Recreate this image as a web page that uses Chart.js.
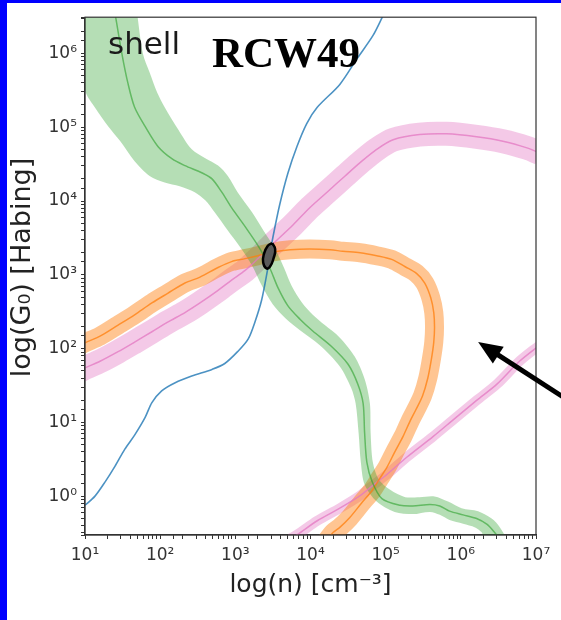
<!DOCTYPE html>
<html>
<head>
<meta charset="utf-8">
<script src="https://cdn.jsdelivr.net/npm/chart.js@4.4.0/dist/chart.umd.min.js"></script>
<style>
  body { margin: 0; background: #fff; }
  #wrap { width: 554px; height: 617px; border-left: 7px solid #0000ff; border-top: 3px solid #0000ff; background: #fff; }
  canvas { display: block; }
</style>
</head>
<body>
<div id="wrap"><canvas id="chart" width="554" height="617"></canvas></div>
<script>
// values are log10(n) and log10(G0)

// blue line
var blueLogN = [1.00, 1.13, 1.27, 1.40, 1.53, 1.66, 1.80, 1.89, 2.02, 2.20, 2.42, 2.69, 2.86, 3.03, 3.17, 3.26, 3.35, 3.42, 3.46, 3.50, 3.59, 3.70, 3.82, 3.95, 4.09, 4.39, 4.62, 4.83, 4.96];
var blueLogG = [-0.12, 0.00, 0.20, 0.41, 0.64, 0.83, 1.07, 1.27, 1.43, 1.54, 1.63, 1.72, 1.80, 1.96, 2.13, 2.36, 2.66, 3.02, 3.28, 3.51, 3.95, 4.38, 4.74, 5.05, 5.27, 5.58, 5.93, 6.24, 6.50];

// green line + band edges
var greenLogN = [1.39, 1.49, 1.57, 1.66, 1.80, 1.97, 2.16, 2.33, 2.56, 2.69, 2.82, 2.95, 3.14, 3.33, 3.46, 3.57, 3.70, 3.86, 4.03, 4.28, 4.50, 4.63, 4.70, 4.72, 4.75, 4.82, 4.95, 5.19, 5.36, 5.59, 5.72, 5.85, 6.03, 6.21, 6.35, 6.45, 6.52];
var greenLogG = [6.60, 6.00, 5.60, 5.27, 5.01, 4.74, 4.57, 4.48, 4.38, 4.30, 4.12, 3.91, 3.64, 3.35, 3.09, 2.82, 2.58, 2.40, 2.24, 2.03, 1.79, 1.52, 1.26, 0.86, 0.46, 0.20, -0.03, -0.12, -0.13, -0.11, -0.13, -0.20, -0.25, -0.30, -0.38, -0.49, -0.58];
var greenHiLogN = [1.68, 1.70, 1.77, 1.86, 1.96, 2.06, 2.24, 2.42, 2.60, 2.77, 2.90, 3.03, 3.22, 3.38, 3.53, 3.65, 3.75, 3.89, 4.03, 4.19, 4.39, 4.59, 4.72, 4.79, 4.80, 4.83, 4.91, 5.06, 5.26, 5.45, 5.65, 5.83, 6.01, 6.23, 6.41, 6.52, 6.59];
var greenHiLogG = [6.66, 6.49, 6.00, 5.74, 5.47, 5.27, 4.97, 4.70, 4.58, 4.48, 4.34, 4.12, 3.85, 3.59, 3.35, 3.09, 2.85, 2.62, 2.46, 2.32, 2.15, 1.89, 1.59, 1.26, 0.86, 0.46, 0.23, 0.09, -0.01, -0.01, 0.00, -0.07, -0.16, -0.20, -0.30, -0.42, -0.58];
var greenLoLogN = [0.80, 0.91, 1.01, 1.13, 1.31, 1.47, 1.66, 1.86, 2.06, 2.26, 2.46, 2.60, 2.73, 2.90, 3.06, 3.22, 3.35, 3.50, 3.67, 3.86, 4.12, 4.39, 4.54, 4.60, 4.64, 4.67, 4.72, 4.88, 5.12, 5.36, 5.59, 5.72, 5.85, 6.03, 6.19, 6.28, 6.31];
var greenLoLogG = [6.66, 5.93, 5.47, 5.27, 5.01, 4.81, 4.54, 4.34, 4.25, 4.20, 4.12, 4.01, 3.84, 3.60, 3.38, 3.13, 2.86, 2.60, 2.41, 2.25, 2.05, 1.76, 1.47, 1.26, 0.86, 0.46, 0.16, -0.07, -0.21, -0.24, -0.21, -0.25, -0.32, -0.37, -0.42, -0.49, -0.58];

// orange line
var orangeLogN = [0.93, 1.00, 1.20, 1.44, 1.66, 1.89, 2.10, 2.33, 2.53, 2.77, 2.95, 3.13, 3.30, 3.50, 3.73, 3.99, 4.26, 4.43, 4.66, 4.88, 5.08, 5.26, 5.41, 5.52, 5.60, 5.64, 5.65, 5.64, 5.61, 5.56, 5.49, 5.40, 5.32, 5.23, 5.12, 5.02, 4.92, 4.82, 4.68, 4.52, 4.39, 4.30, 4.20];
var orangeLogG = [2.04, 2.08, 2.17, 2.32, 2.46, 2.62, 2.75, 2.89, 2.97, 3.10, 3.18, 3.22, 3.26, 3.31, 3.34, 3.35, 3.34, 3.32, 3.30, 3.26, 3.21, 3.11, 3.02, 2.89, 2.69, 2.49, 2.29, 2.09, 1.87, 1.60, 1.36, 1.17, 1.01, 0.81, 0.60, 0.40, 0.24, 0.08, -0.09, -0.29, -0.42, -0.49, -0.62];

// pink lines (upper and lower branch)
var pinkLogN = [0.93, 1.00, 1.20, 1.44, 1.66, 1.89, 2.10, 2.33, 2.53, 2.77, 2.95, 3.13, 3.30, 3.50, 3.77, 3.99, 4.22, 4.46, 4.66, 4.88, 5.10, 5.45, 5.81, 6.21, 6.56, 6.88, 7.05];
var pinkLogG = [1.70, 1.74, 1.83, 1.96, 2.09, 2.23, 2.36, 2.49, 2.62, 2.79, 2.93, 3.06, 3.22, 3.42, 3.68, 3.91, 4.12, 4.34, 4.52, 4.70, 4.83, 4.90, 4.91, 4.87, 4.81, 4.72, 4.65];
var pink2LogN = [3.73, 3.82, 4.09, 4.39, 4.66, 4.83, 5.02, 5.28, 5.63, 5.89, 6.21, 6.48, 6.78, 7.05];
var pink2LogG = [-0.57, -0.52, -0.33, -0.16, 0.01, 0.15, 0.30, 0.53, 0.81, 1.03, 1.30, 1.52, 1.83, 2.05];

// best-fit contour
var fitLogN = [3.49, 3.53, 3.51, 3.46, 3.41, 3.37, 3.38, 3.43, 3.49];
var fitLogG = [3.43, 3.35, 3.23, 3.11, 3.09, 3.17, 3.28, 3.39, 3.43];

// arrow (tail, head)
var arrowLogN = [7.72, 6.23];
var arrowLogG = [1.11, 2.09];

var xTickExps = [1, 2, 3, 4, 5, 6, 7];
var xTickLabels = ["10¹", "10²", "10³", "10⁴", "10⁵", "10⁶", "10⁷"];
var yTickExps = [0, 1, 2, 3, 4, 5, 6];
var yTickLabels = ["10⁰", "10¹", "10²", "10³", "10⁴", "10⁵", "10⁶"];

function pts(ln, lg) {
  return ln.map(function (v, i) {
    return { x: Math.pow(10, v), y: Math.pow(10, lg[i]) };
  });
}

function tickLabel(exps, labels) {
  return function (value) {
    var e = Math.log10(value);
    var r = Math.round(e);
    var i = exps.indexOf(r);
    if (i >= 0 && Math.abs(e - r) < 1e-6) return labels[i];
    return "";
  };
}

var greenBand = pts(greenHiLogN, greenHiLogG).concat(pts(greenLoLogN, greenLoLogG).reverse());

var extras = {
  id: "extras",
  afterDraw: function (chart) {
    var ctx = chart.ctx;
    var a = chart.chartArea;
    var xs = chart.scales.x;
    var ys = chart.scales.y;
    ctx.save();
    // frame
    ctx.strokeStyle = "#333";
    ctx.lineWidth = 1.2;
    ctx.strokeRect(a.left, a.top, a.right - a.left, a.bottom - a.top);

    // labels
    ctx.fillStyle = "#1a1a1a";
    ctx.font = "31px 'DejaVu Sans'";
    ctx.textBaseline = "alphabetic";
    ctx.fillText("shell", a.left + 23, a.top + 37);
    ctx.fillStyle = "#000";
    ctx.font = "bold 43px 'Liberation Serif'";
    ctx.fillText("RCW49", a.left + 127, a.top + 50);

    // arrow
    var x0 = xs.getPixelForValue(Math.pow(10, arrowLogN[0]));
    var y0 = ys.getPixelForValue(Math.pow(10, arrowLogG[0]));
    var x1 = xs.getPixelForValue(Math.pow(10, arrowLogN[1]));
    var y1 = ys.getPixelForValue(Math.pow(10, arrowLogG[1]));
    var ang = Math.atan2(y1 - y0, x1 - x0);
    var hl = 24, hw = 10;
    var bx = x1 - hl * Math.cos(ang), by = y1 - hl * Math.sin(ang);
    ctx.strokeStyle = "#000";
    ctx.lineWidth = 5;
    ctx.beginPath();
    ctx.moveTo(x0, y0);
    ctx.lineTo(bx + 4 * Math.cos(ang), by + 4 * Math.sin(ang));
    ctx.stroke();
    ctx.fillStyle = "#000";
    ctx.beginPath();
    ctx.moveTo(x1, y1);
    ctx.lineTo(bx + hw * Math.sin(ang), by - hw * Math.cos(ang));
    ctx.lineTo(bx - hw * Math.sin(ang), by + hw * Math.cos(ang));
    ctx.closePath();
    ctx.fill();
    ctx.restore();
  },
};

var chart = new Chart(document.getElementById("chart").getContext("2d"), {
  type: "line",
  data: {
    datasets: [
      {
        data: pts(fitLogN, fitLogG),
        order: 0,
        fill: "shape",
        backgroundColor: "#5a5a5a",
        borderColor: "#000",
        borderWidth: 2.5,
        tension: 0.5,
      },
      {
        data: pts(blueLogN, blueLogG),
        order: 1,
        borderColor: "rgba(31,119,180,0.8)",
        borderWidth: 1.6,
        tension: 0.3,
      },
      {
        data: pts(greenLogN, greenLogG),
        order: 2,
        borderColor: "rgba(44,160,44,0.6)",
        borderWidth: 1.5,
        tension: 0.3,
      },
      {
        data: pts(orangeLogN, orangeLogG),
        order: 2,
        borderColor: "rgba(255,127,14,0.75)",
        borderWidth: 1.5,
        tension: 0.3,
      },
      {
        data: pts(pinkLogN, pinkLogG),
        order: 2,
        borderColor: "rgba(227,119,194,0.75)",
        borderWidth: 1.5,
        tension: 0.3,
      },
      {
        data: pts(pink2LogN, pink2LogG),
        order: 2,
        borderColor: "rgba(227,119,194,0.75)",
        borderWidth: 1.5,
        tension: 0.3,
      },
      {
        // green uncertainty band
        data: greenBand,
        order: 3,
        fill: "shape",
        backgroundColor: "rgba(44,160,44,0.35)",
        borderWidth: 0,
        borderColor: "rgba(0,0,0,0)",
        tension: 0.3,
      },
      {
        data: pts(orangeLogN, orangeLogG),
        order: 4,
        borderColor: "rgba(255,127,14,0.45)",
        borderWidth: 19,
        borderJoinStyle: "round",
        tension: 0.3,
      },
      {
        data: pts(pinkLogN, pinkLogG),
        order: 4,
        borderColor: "rgba(227,119,194,0.4)",
        borderWidth: 24,
        borderJoinStyle: "round",
        tension: 0.3,
      },
      {
        data: pts(pink2LogN, pink2LogG),
        order: 4,
        borderColor: "rgba(227,119,194,0.4)",
        borderWidth: 10,
        borderJoinStyle: "round",
        tension: 0.3,
      },
    ],
  },
  options: {
    responsive: false,
    animation: false,
    events: [],
    layout: {
      padding: { left: 0, top: 5, right: 25, bottom: 0 },
    },
    datasets: {
      line: { clip: 0, pointRadius: 0 },
    },
    plugins: {
      legend: { display: false },
      tooltip: { enabled: false },
    },
    scales: {
      x: {
        type: "logarithmic",
        min: 10,
        max: 1e7,
        afterFit: function (s) {
          s.height = 85;
        },
        border: { color: "#333", width: 1.2 },
        grid: { drawOnChartArea: false, drawTicks: true, tickLength: 4, tickColor: "#333" },
        ticks: {
          autoSkip: false,
          maxRotation: 0,
          padding: 6,
          color: "#333",
          font: { family: "DejaVu Sans", size: 17 },
          callback: tickLabel(xTickExps, xTickLabels),
        },
        title: {
          display: true,
          text: "log(n) [cm⁻³]",
          color: "#222",
          font: { family: "DejaVu Sans", size: 25 },
          padding: { top: 0, bottom: 20 },
        },
      },
      y: {
        type: "logarithmic",
        min: 0.3236,
        max: 3.09e6,
        afterFit: function (s) {
          s.width = 78;
        },
        border: { color: "#333", width: 1.2 },
        grid: { drawOnChartArea: false, drawTicks: true, tickLength: 4, tickColor: "#333" },
        ticks: {
          autoSkip: false,
          padding: 4,
          color: "#333",
          font: { family: "DejaVu Sans", size: 17 },
          callback: tickLabel(yTickExps, yTickLabels),
        },
        title: {
          display: true,
          // leading spaces nudge the label up, as in the original
          text: "  log(G₀) [Habing]",
          color: "#222",
          font: { family: "DejaVu Sans", size: 27 },
          padding: { top: 0, bottom: 0 },
        },
      },
    },
  },
  plugins: [extras],
});
</script>
</body>
</html>
